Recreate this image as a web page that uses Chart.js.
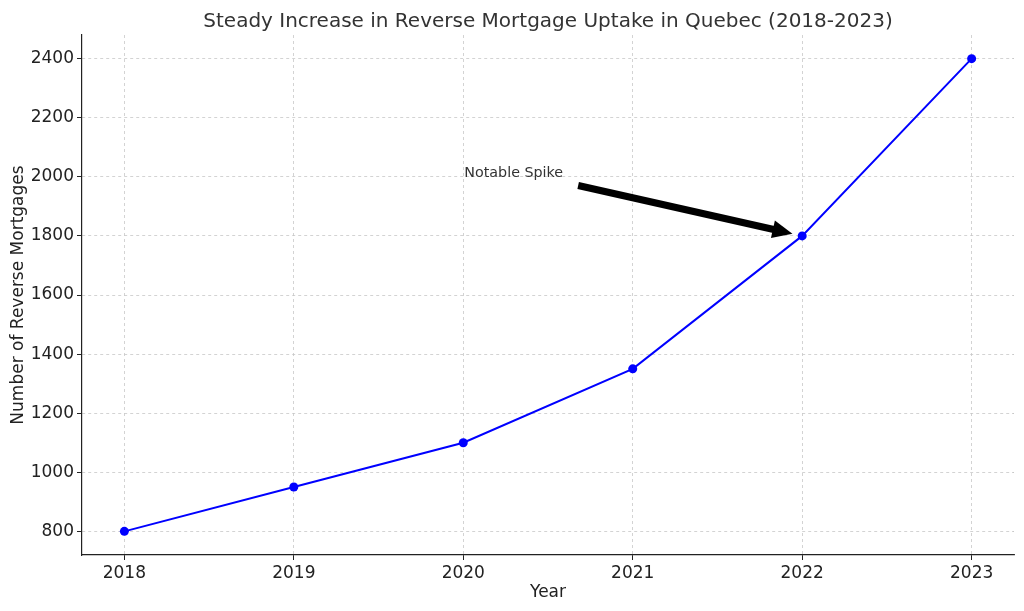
<!DOCTYPE html>
<html>
<head>
<meta charset="utf-8">
<script src="https://cdn.jsdelivr.net/npm/chart.js@4.4.0/dist/chart.umd.min.js"></script>
<style>
  html, body { margin: 0; padding: 0; background: #fff; }
  #wrap { width: 1024px; height: 611px; }
</style>
</head>
<body>
<div id="wrap"><canvas id="chart" width="1024" height="611"></canvas></div>
<script>
// data
const years = [2018, 2019, 2020, 2021, 2022, 2023];
const mortgages = [800, 950, 1100, 1350, 1800, 2400];
const xTicks = [2018, 2019, 2020, 2021, 2022, 2023];
const yTicks = [800, 1000, 1200, 1400, 1600, 1800, 2000, 2200, 2400];
const note = { text: 'Notable Spike', x: 2020, y: 2000, toX: 2022, toY: 1800 };

const FONT = "'DejaVu Sans', sans-serif";

// arrow + label, placed through the chart scales
const annotate = {
    id: 'annotate',
    afterDatasetsDraw(chart) {
        const ctx = chart.ctx;
        const xs = chart.scales.x, ys = chart.scales.y;
        const tx = xs.getPixelForValue(note.x), ty = ys.getPixelForValue(note.y);
        const px = xs.getPixelForValue(note.toX), py = ys.getPixelForValue(note.toY);

        ctx.save();
        ctx.font = '14.3px ' + FONT;
        ctx.fillStyle = '#333';
        ctx.textAlign = 'left';
        ctx.textBaseline = 'alphabetic';
        ctx.fillText(note.text, tx + 1, ty);
        const w = ctx.measureText(note.text).width;

        const cx = tx + w / 2, cy = ty - 6;
        let dx = px - cx, dy = py - cy;
        const len = Math.hypot(dx, dy);
        const ux = dx / len, uy = dy / len;
        const s = (w / 2 + 16) / ux;
        const sx = cx + ux * s, sy = cy + uy * s;
        const ex = px - ux * 10, ey = py - uy * 10;
        const headLen = 20, headW = 9;
        const bx = ex - ux * headLen, by = ey - uy * headLen;

        ctx.strokeStyle = '#000';
        ctx.lineWidth = 7;
        ctx.lineCap = 'butt';
        ctx.beginPath();
        ctx.moveTo(sx, sy);
        ctx.lineTo(bx + ux * 2, by + uy * 2);
        ctx.stroke();

        ctx.fillStyle = '#000';
        ctx.beginPath();
        ctx.moveTo(ex, ey);
        ctx.lineTo(bx - uy * headW, by + ux * headW);
        ctx.lineTo(bx + uy * headW, by - ux * headW);
        ctx.closePath();
        ctx.fill();
        ctx.restore();
    }
};

new Chart(document.getElementById('chart'), {
    type: 'line',
    data: {
        datasets: [{
            data: years.map((y, i) => ({ x: y, y: mortgages[i] })),
            borderColor: '#0000ff',
            backgroundColor: '#0000ff',
            borderWidth: 2,
            pointRadius: 4.5,
            pointBorderWidth: 0,
            tension: 0
        }]
    },
    options: {
        responsive: false,
        animation: false,
        layout: { padding: { top: 0, right: 10, bottom: 0, left: 0 } },
        plugins: {
            legend: { display: false },
            tooltip: { enabled: false },
            title: {
                display: true,
                fullSize: false,
                text: 'Steady Increase in Reverse Mortgage Uptake in Quebec (2018-2023)',
                color: '#333',
                font: { family: FONT, size: 20, weight: 'normal' },
                padding: { top: 10, bottom: 1 }
            }
        },
        scales: {
            x: {
                type: 'linear',
                min: 2017.75,
                max: 2023.25,
                afterBuildTicks: s => { s.ticks = xTicks.map(v => ({ value: v })); },
                afterFit: s => { s.height = 56; },
                ticks: {
                    color: '#222',
                    font: { family: FONT, size: 17 },
                    padding: 3,
                    maxRotation: 0,
                    callback: v => String(v)
                },
                grid: { color: '#c8c8c8', lineWidth: 0.8, tickColor: '#222', tickLength: 5, tickWidth: 1 },
                border: { display: true, color: '#222', width: 1.2, dash: [3, 3] },
                title: {
                    display: true,
                    text: 'Year',
                    color: '#222',
                    font: { family: FONT, size: 17 },
                    padding: { top: 0, bottom: 8 }
                }
            },
            y: {
                min: 720,
                max: 2480,
                afterBuildTicks: s => { s.ticks = yTicks.map(v => ({ value: v })); },
                afterFit: s => { s.width = 82; },
                ticks: {
                    color: '#222',
                    font: { family: FONT, size: 17 },
                    padding: 3,
                    callback: v => String(v)
                },
                grid: { color: '#c8c8c8', lineWidth: 0.8, tickColor: '#222', tickLength: 5, tickWidth: 1 },
                border: { display: true, color: '#222', width: 1.2, dash: [3, 3] },
                title: {
                    display: true,
                    text: 'Number of Reverse Mortgages',
                    color: '#222',
                    font: { family: FONT, size: 17 },
                    padding: { top: 8, bottom: 0 }
                }
            }
        }
    },
    plugins: [annotate]
});
</script>
</body>
</html>
